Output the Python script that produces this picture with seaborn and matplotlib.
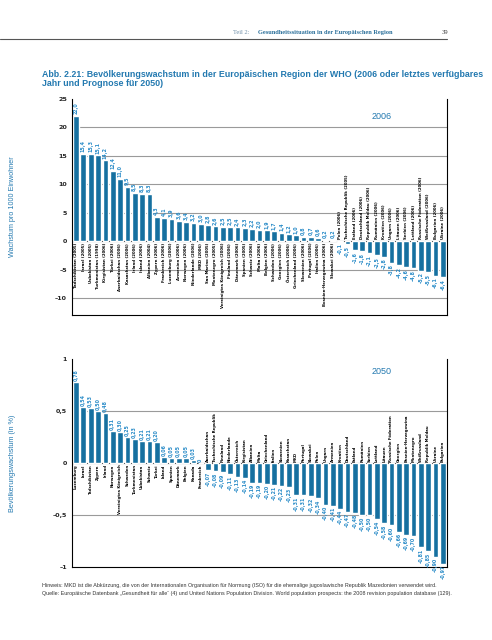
import pandas as pd
import matplotlib
matplotlib.use("Agg")
import matplotlib.pyplot as plt
from matplotlib.lines import Line2D
import seaborn as sns

# Daten 2006 (Wachstum pro 1000 Einwohner)
laender_2006 = [
    "Tadschikistan (2005)", "Israel (2005)", "Usbekistan (2005)", "Turkmenistan (1998)",
    "Kirgisistan (2006)", "Türkei (2006)", "Aserbaidschan (2006)", "Kasachstan (2006)",
    "Irland (2006)", "Island (2006)", "Albanien (2004)", "Zypern (2006)",
    "Frankreich (2006)", "Luxemburg (2006)", "Armenien (2006)", "Norwegen (2006)",
    "Niederlande (2006)", "MKD (2006)", "San Marino (2005)", "Montenegro (2005)",
    "Vereinigtes Königreich (2006)", "Finnland (2006)", "Dänemark (2006)", "Spanien (2005)",
    "Schweiz (2006)", "Malta (2006)", "Belgien (2006)", "Schweden (2006)",
    "Georgien (2006)", "Österreich (2006)", "Griechenland (2006)", "Slowenien (2006)",
    "Portugal (2006)", "Italien (2006)", "Bosnien-Herzegowina (2006)", "Slowakei (2006)",
    "Polen (2006)", "Tschechische Republik (2005)", "Estland (2006)", "Deutschland (2006)",
    "Republik Moldau (2006)", "Rumänien (2006)", "Kroatien (2006)", "Ungarn (2006)",
    "Litauen (2006)", "Serbien (2006)", "Lettland (2006)", "Russische Föderation (2006)",
    "Weißrussland (2006)", "Bulgarien (2006)", "Ukraine (2006)",
]
werte_2006 = [
    22.0, 15.4, 15.3, 15.1, 14.2, 12.4, 11.0, 9.5, 8.5, 8.3, 8.3, 4.3,
    4.1, 3.9, 3.6, 3.4, 3.2, 3.0, 2.8, 2.6, 2.5, 2.5, 2.4, 2.3,
    2.2, 2.0, 1.9, 1.7, 1.4, 1.2, 1.0, 0.8, 0.7, 0.6, 0.2, 0.2,
    -0.1, -0.5, -1.6, -1.8, -2.1, -2.5, -2.8, -3.8, -4.2, -4.6, -4.8, -5.2,
    -5.5, -6.1, -6.4,
]

# Prognose 2050 (in %)
laender_2050 = [
    "Luxemburg", "Israel", "Tadschikistan", "Zypern", "Irland", "Norwegen",
    "Vereinigtes Königreich", "Schweden", "Turkmenistan", "Usbekistan", "Schweiz", "Türkei",
    "Island", "Spanien", "Dänemark", "Belgien", "Kanada", "Frankreich",
    "Aserbaidschan", "Tschechische Republik", "Finnland", "Niederlande", "Österreich", "Kirgisistan",
    "Albanien", "Malta", "Griechenland", "Italien", "Slowenien", "Kasachstan",
    "MKD", "Portugal", "Slowakei", "Polen", "Ungarn", "Armenien",
    "Kroatien", "Deutschland", "Estland", "Rumänien", "Serbien", "Lettland",
    "Litauen", "Russische Föderation", "Georgien", "Bosnien-Herzegowina", "Montenegro", "Weißrussland",
    "Republik Moldau", "Ukraine", "Bulgarien",
]
werte_2050 = [
    0.78, 0.54, 0.53, 0.50, 0.48, 0.31, 0.30, 0.25, 0.23, 0.21, 0.21, 0.20,
    0.06, 0.05, 0.05, 0.05, 0.03, 0.0, -0.07, -0.08, -0.09, -0.11, -0.13, -0.14,
    -0.19, -0.19, -0.20, -0.21, -0.22, -0.23, -0.31, -0.31, -0.32, -0.34, -0.40, -0.41,
    -0.44, -0.47, -0.48, -0.50, -0.50, -0.54, -0.58, -0.60, -0.66, -0.69, -0.70, -0.81,
    -0.85, -0.90, -0.97,
]

BLAU = "#1670a0"
HELLBLAU = "#2a8cc8"
TITELBLAU = "#2379b0"
schmal = ["Liberation Sans Narrow", "DejaVu Sans"]

sns.set_style("white")
plt.rcParams["font.family"] = ["Liberation Sans", "DejaVu Sans"]

fig = plt.figure(figsize=(4.92, 6.4), dpi=100)


def zahl(v, stellen):
    if v == 0:
        return "0"
    s = f"{v:.{stellen}f}".replace(".", ",")
    return s.replace("-", "–")


def balken(ax, namen, werte, stellen, off_wert, off_name):
    df = pd.DataFrame({"land": namen, "wert": werte})
    sns.barplot(data=df, x="land", y="wert", ax=ax, color=BLAU, saturation=1,
                width=0.78, order=namen)
    for i, (n, v) in enumerate(zip(namen, werte)):
        if v >= 0:
            ax.text(i, v + off_wert, zahl(v, stellen), rotation=90, ha="center", va="bottom",
                    fontsize=3.4, fontweight="bold", color=HELLBLAU, family=schmal, clip_on=False)
            ax.text(i, -off_name, n, rotation=90, ha="center", va="top",
                    fontsize=2.8, fontweight="bold", color="black", family=schmal, clip_on=False)
        else:
            ax.text(i, v - off_wert, zahl(v, stellen), rotation=90, ha="center", va="top",
                    fontsize=3.4, fontweight="bold", color=HELLBLAU, family=schmal, clip_on=False)
            ax.text(i, off_name, n, rotation=90, ha="center", va="bottom",
                    fontsize=2.8, fontweight="bold", color="black", family=schmal, clip_on=False)
    ax.set_xlabel("")
    ax.set_ylabel("")
    ax.set_xticks([])
    ax.set_xlim(-0.55, len(namen) - 0.45)
    ax.axhline(0, color="#333333", lw=0.8, zorder=0.5)
    for s in ax.spines.values():
        s.set_color("black")
        s.set_linewidth(0.8)
    ax.spines["top"].set_visible(False)
    ax.tick_params(axis="y", length=2, width=0.6, labelsize=4.6, pad=1.5)
    for t in ax.get_yticklabels():
        t.set_fontweight("bold")
        t.set_family(schmal)


# oben: 2006
ax1 = fig.add_axes([0.1463, 0.5078, 0.762, 0.3375])
ticks1 = [25, 20, 15, 10, 5, 0, -5, -10]
for t in ticks1:
    if t not in (0, 25):
        ax1.axhline(t, color="#9a9a9a", lw=0.8, zorder=0)
balken(ax1, laender_2006, werte_2006, 1, 0.3, 0.3)
ax1.set_ylim(-13, 25)
ax1.set_yticks(ticks1)
ax1.set_yticklabels([str(t).replace("-", "–") for t in ticks1])
ax1.text(0.80, 22, "2006", transform=ax1.get_yaxis_transform(), fontsize=6.5,
         color=TITELBLAU, ha="left", va="center")

# unten: 2050
ax2 = fig.add_axes([0.1463, 0.114, 0.762, 0.325])
ticks2 = [1, 0.5, 0, -0.5, -1]
for t in (0.5, -0.5):
    ax2.axhline(t, color="#9a9a9a", lw=0.8, zorder=0)
balken(ax2, laender_2050, werte_2050, 2, 0.012, 0.012)
ax2.set_ylim(-1, 1)
ax2.set_yticks(ticks2)
ax2.set_yticklabels(["1", "0,5", "0", "–0,5", "–1"])
ax2.text(0.80, 0.88, "2050", transform=ax2.get_yaxis_transform(), fontsize=6.5,
         color=TITELBLAU, ha="left", va="center")

fig.text(0.025, 0.6765, "Wachstum pro 1000 Einwohner", rotation=90, ha="center", va="center",
         fontsize=5.2, color=TITELBLAU)
fig.text(0.025, 0.2765, "Bevölkerungswachstum (in %)", rotation=90, ha="center", va="center",
         fontsize=5.2, color=TITELBLAU)

# Kopfzeile
serif = ["Liberation Serif", "DejaVu Serif"]
fig.text(0.474, 1 - 34 / 640, "Teil 2: ", fontsize=4.6, color="#6f8fa8",
         family=serif, ha="left", va="baseline")
fig.text(0.524, 1 - 34 / 640, "Gesundheitssituation in der Europäischen Region", fontsize=4.6,
         color="#2a6f9a", fontweight="bold", family=serif, ha="left", va="baseline")
fig.text(0.898, 1 - 34 / 640, "39", fontsize=4.8, color="#333333",
         family=serif, ha="left", va="baseline")
fig.add_artist(Line2D([0, 0.909], [1 - 39 / 640, 1 - 39 / 640], color="#555555", lw=0.8))

# Titel
fig.text(0.085, 1 - 79 / 640,
         "Abb. 2.21: Bevölkerungswachstum in der Europäischen Region der WHO (2006 oder letztes verfügbares\nJahr und Prognose für 2050)",
         fontsize=6.4, fontweight="bold", color=TITELBLAU, ha="left", va="center", linespacing=1.1)

# Fußnote
fig.text(0.085, 1 - 585 / 640,
         "Hinweis: MKD ist die Abkürzung, die von der Internationalen Organisation für Normung (ISO) für die ehemalige jugoslawische Republik Mazedonien verwendet wird.",
         fontsize=3.9, color="#333333", ha="left", va="center")
fig.text(0.085, 1 - 594 / 640,
         "Quelle: Europäische Datenbank „Gesundheit für alle“ (4) und United Nations Population Division. World population prospects: the 2008 revision population database (129).",
         fontsize=3.9, color="#333333", ha="left", va="center")

fig.savefig("out.png", dpi=100)
